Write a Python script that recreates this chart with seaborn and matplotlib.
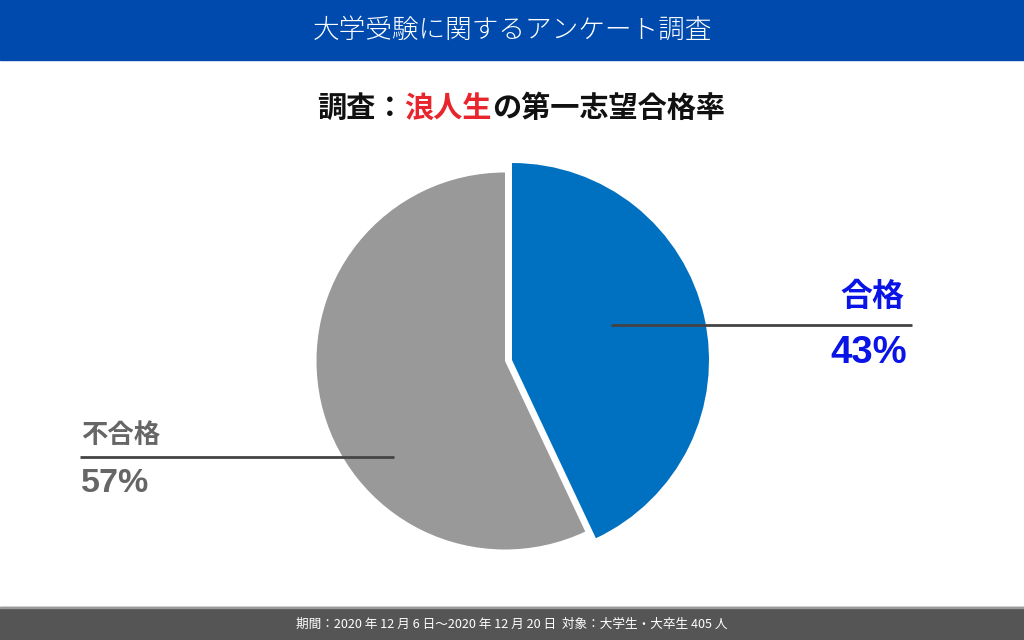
import matplotlib
matplotlib.use("Agg")
import matplotlib.pyplot as plt
import seaborn as sns
from matplotlib.patches import Rectangle

# ---- data ----
categories = ["合格", "不合格"]
values = [43, 57]
pct_labels = ["43%", "57%"]
slice_colors = ["#0070c0", "#999999"]
header_title = "大学受験に関するアンケート調査"
sub_parts = ["調査：", "浪人生", "の第一志望合格率"]
sub_colors = ["#111111", "#e8252c", "#111111"]
footer_text = "期間：2020 年 12 月 6 日～2020 年 12 月 20 日  対象：大学生・大卒生 405 人"

sns.set_theme(style="white")
plt.rcParams["font.family"] = ["Noto Sans CJK JP", "DejaVu Sans"]

W, H = 1024, 640
fig = plt.figure(figsize=(10.24, 6.4), dpi=100)
ax = fig.add_axes([0, 0, 1, 1])

def Y(p):
    return H - p

wedges, _ = ax.pie(values, colors=slice_colors, startangle=90, counterclock=False,
                   center=(505, Y(361)), radius=188.5, frame=True,
                   wedgeprops=dict(linewidth=0))
wedges[0].set_radius(197)
wedges[0].set_center((512, Y(360)))

ax.set_xlim(0, W)
ax.set_ylim(0, H)
ax.axis("off")

# header and footer bands
ax.add_patch(Rectangle((0, Y(60)), W, 60, color="#004aad", zorder=0))
ax.add_patch(Rectangle((0, 0), W, Y(607), color="#555555", zorder=0))
ax.add_patch(Rectangle((0, Y(608)), W, 1.5, color="#9a9a9a", zorder=0))

ax.text(512, Y(30), header_title, color="white", fontsize=19.2, ha="center",
        va="center", weight="light")

# subtitle with mixed colours
fig.canvas.draw()
r = fig.canvas.get_renderer()
x = 317
for part, col in zip(sub_parts, sub_colors):
    t = ax.text(x, Y(108), part, color=col, fontsize=21, weight="bold",
                ha="left", va="center")
    bb = t.get_window_extent(renderer=r)
    x = x + bb.width

# right label (合格)
ax.plot([611, 912], [Y(325), Y(325)], color="#444444", lw=2, solid_capstyle="butt", zorder=5)
ax.text(904, Y(297), categories[0], color="#0a14e6", fontsize=23, weight="bold",
        ha="right", va="center")
ax.text(907, Y(353), pct_labels[0], color="#0a14e6", fontsize=27.5, weight="bold",
        ha="right", va="center", family=["Liberation Sans", "DejaVu Sans"])

# left label (不合格)
ax.plot([80, 394], [Y(457), Y(457)], color="#444444", lw=2, solid_capstyle="butt", zorder=5)
ax.text(81, Y(435), categories[1], color="#666666", fontsize=19, weight="bold",
        ha="left", va="center")
ax.text(81, Y(484), pct_labels[1], color="#666666", fontsize=24.5, weight="bold",
        ha="left", va="center", family=["Liberation Sans", "DejaVu Sans"])

ax.text(512, Y(624), footer_text, color="white", fontsize=9.1, ha="center", va="center")

fig.savefig("out.png", dpi=100)
